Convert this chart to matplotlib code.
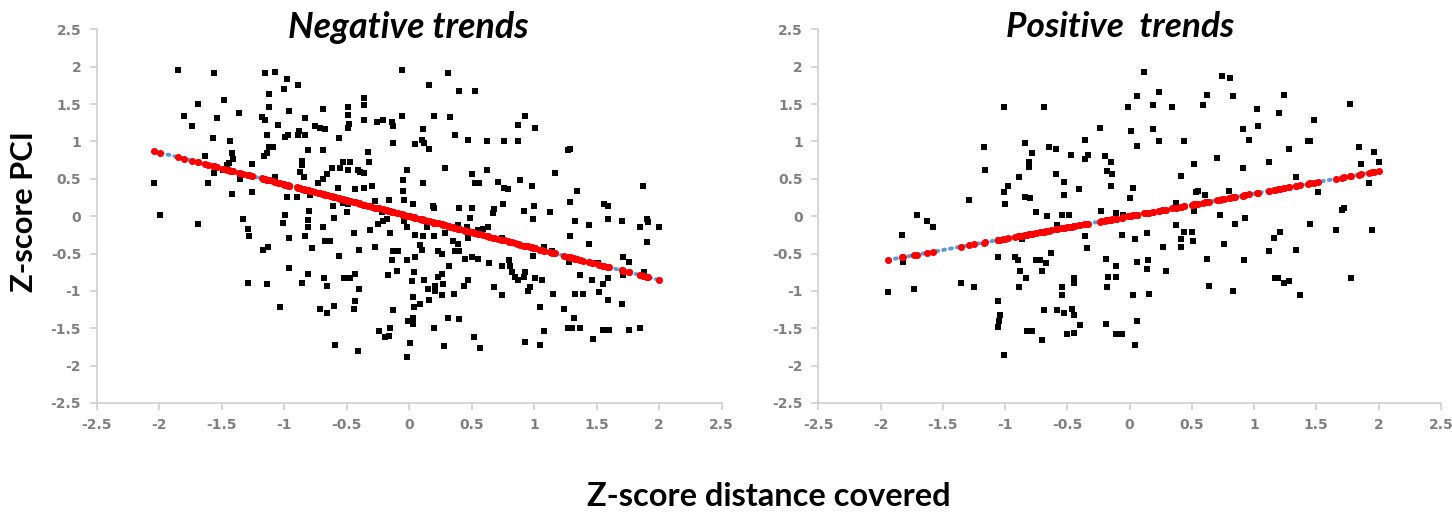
import numpy as np
import matplotlib
matplotlib.use("Agg")
import matplotlib.pyplot as plt

# Negative trends panel (z-score distance covered vs z-score PCI)
neg_pts = [
    (-1.85, 1.95), (-1.56, 1.91), (-1.15, 1.91), (-1.07, 1.93), (-0.98, 1.83), (-1.00, 1.70), (-0.89, 1.75),
    (-1.12, 1.63), (-1.48, 1.55), (-1.69, 1.50), (-1.12, 1.46), (-0.96, 1.41), (-0.69, 1.44), (-0.36, 1.58),
    (-0.36, 1.49), (-0.49, 1.46), (-0.49, 1.36), (-1.80, 1.34), (-1.54, 1.31), (-1.36, 1.38), (-1.18, 1.33),
    (-1.15, 1.29), (-1.05, 1.22), (-0.83, 1.31), (-1.74, 1.20), (-0.75, 1.20), (-0.71, 1.18), (-0.67, 1.16),
    (-0.48, 1.23), (-0.49, 1.18), (-0.36, 1.29), (-0.26, 1.26), (-0.21, 1.29), (-0.14, 1.26), (-0.13, 1.20),
    (-1.14, 1.08), (-0.99, 1.06), (-0.97, 1.08), (-0.89, 1.08), (-0.88, 1.14), (-0.83, 1.08), (-0.56, 1.05),
    (-1.57, 1.04), (-1.43, 1.00), (-0.13, 0.98), (-1.12, 0.93), (-1.09, 0.92), (-1.14, 0.84), (-1.16, 0.81),
    (-1.42, 0.84), (-1.41, 0.77), (-0.81, 0.88), (-0.69, 0.88), (-0.33, 0.86), (-1.63, 0.80), (-1.44, 0.71),
    (-1.46, 0.68), (-1.26, 0.70), (-0.86, 0.74), (-0.86, 0.68), (-0.87, 0.59), (-0.84, 0.52), (-0.53, 0.72),
    (-0.47, 0.72), (-0.55, 0.65), (-0.62, 0.64), (-0.49, 0.62), (-0.41, 0.62), (-0.36, 0.58), (-0.39, 0.59),
    (-0.32, 0.72), (-1.56, 0.58), (-1.49, 0.62), (-2.04, 0.44), (-1.61, 0.44), (-1.35, 0.50), (-1.07, 0.52),
    (-0.66, 0.56), (-0.69, 0.50), (-0.73, 0.44), (-1.42, 0.30), (-1.26, 0.32), (-0.98, 0.25), (-0.90, 0.25),
    (-0.79, 0.28), (-0.57, 0.38), (-0.43, 0.36), (-0.36, 0.38), (-0.30, 0.40), (-0.16, 0.21), (-0.27, 0.20),
    (-0.61, 0.13), (-0.49, 0.16), (-0.53, 0.18),
    (-0.06, 1.95), (0.31, 1.91), (0.16, 1.75), (0.40, 1.67), (0.53, 1.67), (-0.06, 1.34), (0.20, 1.34),
    (0.33, 1.33), (0.93, 1.34), (0.87, 1.22), (1.01, 1.18), (0.11, 1.16), (0.37, 1.08), (0.47, 1.02),
    (0.62, 1.00), (0.76, 1.00), (0.87, 1.00), (0.10, 1.02), (0.05, 0.96), (0.12, 0.98), (0.16, 0.90),
    (1.27, 0.88), (1.29, 0.90), (-0.02, 0.62), (0.29, 0.64), (0.50, 0.56), (0.62, 0.62), (1.17, 0.58),
    (-0.05, 0.48), (0.11, 0.44), (0.53, 0.44), (0.56, 0.44), (0.71, 0.46), (0.76, 0.37), (0.79, 0.36),
    (0.89, 0.48), (0.98, 0.41), (-0.05, 0.33), (1.34, 0.33), (1.87, 0.40), (-0.04, 0.21), (0.03, 0.16),
    (0.19, 0.13), (0.20, 0.11), (0.40, 0.11), (0.50, 0.11), (0.68, 0.09), (0.75, 0.16), (1.00, 0.13),
    (1.29, 0.19), (1.56, 0.16), (1.59, 0.13),
    (-1.99, 0.01), (-1.69, -0.11), (-1.33, -0.04), (-1.29, -0.17), (-1.28, -0.27), (-0.99, 0.01), (-1.01, -0.09),
    (-0.80, 0.07), (-0.81, -0.05), (-0.81, -0.15), (-0.83, -0.27), (-0.69, -0.15), (-0.60, -0.03), (-0.50, 0.05),
    (-0.96, -0.29), (-1.17, -0.45), (-1.13, -0.41), (-0.78, -0.43), (-0.67, -0.33), (-0.63, -0.33), (-0.56, -0.53),
    (-0.44, -0.23), (-0.40, -0.45), (-0.31, -0.19), (-0.25, -0.11), (-0.21, -0.07), (-0.18, -0.04), (-0.22, 0.05),
    (-0.15, -0.23), (-0.27, -0.41), (-0.13, -0.47), (-0.09, -0.47), (-0.14, -0.59), (-0.96, -0.69), (-0.81, -0.77),
    (-1.29, -0.89), (-1.14, -0.91), (-0.86, -0.89), (-0.68, -0.83), (-0.66, -0.94), (-0.52, -0.83), (-0.47, -0.83),
    (-0.43, -0.77), (-0.40, -0.97), (-0.17, -0.79), (-0.10, -0.73), (-1.03, -1.22), (-0.71, -1.24), (-0.66, -1.30),
    (-0.60, -1.20), (-0.43, -1.13), (-0.44, -1.24), (-0.13, -1.26), (-0.24, -1.54), (-0.15, -1.50), (-0.19, -1.62),
    (-0.16, -1.60), (-0.59, -1.72), (-0.41, -1.80),
    (-0.04, -0.07), (-0.02, -0.15), (0.05, -0.25), (0.11, -0.27), (0.20, -0.27), (0.14, -0.15), (0.29, -0.23),
    (0.35, -0.33), (0.39, -0.37), (0.37, -0.47), (0.40, -0.47), (0.09, -0.39), (0.10, -0.45), (0.05, -0.55),
    (-0.02, -0.59), (0.23, -0.47), (0.26, -0.51), (0.47, -0.29), (0.46, -0.15), (0.39, -0.12), (0.49, -0.03),
    (0.55, -0.19), (0.59, -0.17), (0.63, -0.15), (0.67, 0.04), (0.45, -0.57), (0.50, -0.55), (0.55, -0.57),
    (0.64, -0.63), (0.74, -0.67), (0.74, -0.29), (0.80, -0.59), (0.81, -0.67), (0.82, -0.75), (0.85, -0.81),
    (0.87, -0.86), (0.93, -0.75), (0.92, -0.81), (1.01, -0.83), (1.06, -0.86), (0.92, 0.07), (0.99, -0.04),
    (1.13, 0.05), (1.08, -0.41), (0.99, -0.53), (1.14, -0.47), (0.32, -0.67), (0.04, -0.75), (0.02, -0.87),
    (0.12, -0.86), (0.23, -0.81), (0.26, -0.77), (0.27, -0.91), (0.21, -0.94), (0.21, -1.00), (0.26, -1.06),
    (0.15, -0.97), (0.03, -1.08), (0.16, -1.12), (0.09, -1.18), (0.04, -1.22), (0.36, -1.04), (0.44, -0.94),
    (0.47, -0.86), (0.68, -0.95), (0.74, -1.06), (0.95, -1.00), (0.97, -0.95), (1.15, -1.04), (1.05, -1.22),
    (1.24, -1.24), (1.32, -1.36), (1.33, -1.04), (1.39, -1.04), (1.37, -0.79), (1.46, -0.86), (1.52, -1.02),
    (1.55, -0.91), (1.59, -0.83), (1.59, -1.12), (1.70, -1.18), (1.71, -0.79), (1.88, -0.75), (1.71, -0.55),
    (1.76, -0.61), (1.51, -0.63), (1.28, -0.61), (1.29, -0.27), (1.44, -0.37), (1.44, -0.12), (1.33, -0.07),
    (1.59, -0.04), (1.70, -0.07), (1.85, -0.15), (1.90, -0.04), (1.91, -0.08), (2.00, -0.15), (1.90, -0.35),
    (-0.01, -1.40), (0.03, -1.36), (0.03, -1.44), (0.20, -1.50), (0.31, -1.36), (0.40, -1.38), (0.01, -1.70),
    (-0.02, -1.88), (0.28, -1.74), (0.52, -1.62), (0.57, -1.76), (0.93, -1.68), (1.05, -1.72), (1.08, -1.54),
    (1.27, -1.50), (1.30, -1.50), (1.37, -1.50), (1.47, -1.64), (1.55, -1.52), (1.60, -1.52), (1.76, -1.52),
    (1.85, -1.50),
]

# Positive trends panel
pos_pts = [
    (-1.01, 1.46), (-0.69, 1.46), (-0.24, 1.18), (-0.36, 1.02), (-1.17, 0.92), (-0.84, 0.98), (-0.78, 0.84),
    (-0.65, 0.92), (-0.59, 0.90), (-0.47, 0.82), (-0.33, 0.82), (-0.36, 0.76), (-0.20, 0.80), (-0.15, 0.72),
    (-0.81, 0.72), (-0.81, 0.66), (-1.16, 0.62), (-0.59, 0.56), (-0.53, 0.46), (-0.18, 0.60), (-0.14, 0.56),
    (-0.89, 0.52), (-0.98, 0.41), (-1.01, 0.32), (-0.41, 0.36), (-0.15, 0.40), (-1.29, 0.21), (-1.00, 0.16),
    (-0.84, 0.25), (-0.80, 0.24), (-0.53, 0.28),
    (-1.71, 0.01), (-1.63, -0.07), (-1.58, -0.15), (-1.83, -0.25), (-0.75, 0.05), (-0.66, 0.00), (-0.54, 0.01),
    (-0.49, 0.01), (-0.23, 0.07), (-0.11, 0.04), (-0.58, -0.12), (-0.36, -0.27), (-0.34, -0.43), (-0.86, -0.31),
    (-0.63, -0.49), (-1.06, -0.55), (-0.92, -0.55), (-0.90, -0.59), (-0.75, -0.59), (-0.72, -0.59), (-0.67, -0.63),
    (-0.88, -0.73), (-0.70, -0.73), (-0.83, -0.83), (-0.19, -0.57), (-0.11, -0.67), (-0.17, -0.81), (-0.11, -0.81),
    (-0.18, -0.95), (-1.82, -0.61), (-1.94, -1.01), (-1.73, -0.98), (-1.35, -0.89), (-1.25, -0.95), (-0.89, -0.95),
    (-0.54, -0.95), (-0.54, -1.06), (-0.45, -0.83), (-0.45, -0.89), (-1.06, -1.13), (-1.04, -1.32), (-1.05, -1.40),
    (-1.06, -1.48), (-0.69, -1.26), (-0.58, -1.26), (-0.53, -1.30), (-0.46, -1.24), (-0.45, -1.32), (-0.40, -1.46),
    (-0.19, -1.44), (-0.82, -1.54), (-0.78, -1.54), (-0.70, -1.66), (-0.50, -1.58), (-0.45, -1.56), (-0.11, -1.58),
    (-1.01, -1.86),
    (0.12, 1.93), (0.74, 1.88), (0.81, 1.85), (0.06, 1.61), (0.24, 1.66), (-0.01, 1.46), (0.19, 1.49),
    (0.34, 1.46), (0.62, 1.62), (0.59, 1.49), (0.83, 1.61), (1.24, 1.62), (1.02, 1.44), (1.20, 1.38),
    (1.77, 1.50), (1.48, 1.28), (0.01, 1.14), (0.19, 1.16), (0.91, 1.16), (1.03, 1.20), (0.06, 0.94),
    (0.24, 1.00), (0.44, 1.00), (0.96, 1.02), (1.43, 1.00), (1.45, 1.00), (1.28, 0.90), (1.84, 0.92),
    (1.96, 0.86), (2.00, 0.72), (1.86, 0.70), (0.70, 0.78), (0.52, 0.70), (1.12, 0.72), (0.91, 0.64),
    (0.41, 0.54), (1.34, 0.52), (0.03, 0.37), (0.00, 0.24), (0.53, 0.32), (0.55, 0.33), (0.61, 0.28),
    (0.80, 0.33), (0.37, 0.17), (1.92, 0.44), (1.51, 0.32), (1.72, 0.11),
    (-0.05, 0.01), (0.00, 0.00), (0.26, 0.07), (0.52, 0.07), (0.73, 0.01), (0.93, -0.03), (0.85, -0.11),
    (0.37, -0.12), (0.44, -0.21), (0.50, -0.21), (0.41, -0.31), (0.51, -0.33), (0.41, -0.41), (0.27, -0.41),
    (0.14, -0.23), (0.04, -0.31), (-0.06, -0.25), (0.76, -0.37), (0.62, -0.57), (0.92, -0.59), (1.21, -0.21),
    (1.16, -0.29), (1.12, -0.47), (1.34, -0.45), (1.45, -0.11), (1.66, -0.19), (1.95, -0.19), (1.71, 0.08),
    (0.06, -0.61), (0.15, -0.59), (0.14, -0.71), (0.29, -0.73), (0.64, -0.94), (0.83, -1.00), (1.17, -0.83),
    (1.19, -0.83), (1.24, -0.90), (1.28, -0.87), (1.37, -1.06), (1.78, -0.83), (0.03, -1.06), (0.16, -1.04),
    (0.06, -1.40), (-0.06, -1.58), (0.04, -1.72),
]

# linear trendline (slope, intercept)
neg_fit = (-0.427, 0.0)
pos_fit = (0.302, 0.0)

titles = ["Negative trends", "Positive  trends"]
ticks = [-2.5, -2, -1.5, -1, -0.5, 0, 0.5, 1, 1.5, 2, 2.5]

W, H = 1452, 512
fig = plt.figure(figsize=(W / 100, H / 100), dpi=100)

tick_font = ["Liberation Sans Narrow", "DejaVu Sans"]
label_font = ["Lato", "DejaVu Sans"]
grey = "#808080"
axis_col = "#d0d0d0"

ax_left = fig.add_axes([96.5 / W, 1 - 403 / H, 625 / W, 373.7 / H])
ax_right = fig.add_axes([818.3 / W, 1 - 403 / H, 622.5 / W, 373.7 / H])

title_objs = []
for ax, pts, fit, title in zip([ax_left, ax_right], [neg_pts, pos_pts], [neg_fit, pos_fit], titles):
    x = np.array([p[0] for p in pts])
    y = np.array([p[1] for p in pts])
    ax.scatter(x, y, marker="s", s=16, color="black", linewidths=0, zorder=3)
    xl = np.array([x.min(), x.max()])
    ax.plot(xl, fit[0] * xl + fit[1], color="#5b9bd5", lw=2.8,
            linestyle=(0, (0.5, 1.3)), dash_capstyle="round", zorder=4)
    ax.scatter(x, fit[0] * x + fit[1], marker="o", s=26, color="red", linewidths=0, zorder=5)

    ax.set_xlim(-2.5, 2.5)
    ax.set_ylim(-2.5, 2.5)
    ax.set_xticks(ticks)
    ax.set_yticks(ticks)
    ax.set_xticklabels([f"{t:g}" for t in ticks], family=tick_font, fontweight="bold", fontsize=10, color=grey)
    ax.set_yticklabels([f"{t:g}" for t in ticks], family=tick_font, fontweight="bold", fontsize=10, color=grey)
    for s in ["top", "right"]:
        ax.spines[s].set_visible(False)
    for s in ["left", "bottom"]:
        ax.spines[s].set_color(axis_col)
        ax.spines[s].set_linewidth(1.2)
    ax.tick_params(direction="out", length=5, width=1.2, color=axis_col, pad=6)

# titles and axis labels, sized to the widths measured on the reference
t1 = fig.text(408 / W, 1 - 27 / H, titles[0], ha="center", va="center",
              family=label_font, fontweight="bold", style="italic", fontsize=20)
t2 = fig.text(1120 / W, 1 - 27 / H, titles[1], ha="center", va="center",
              family=label_font, fontweight="bold", style="italic", fontsize=20)
yl = fig.text(24 / W, 1 - 212 / H, "Z-score PCI", rotation=90, ha="center", va="center",
              family=label_font, fontweight="bold", fontsize=20)
xl = fig.text(769 / W, 1 - 497 / H, "Z-score distance covered", ha="center", va="center",
              family=label_font, fontweight="bold", fontsize=20)

fig.canvas.draw()
r = fig.canvas.get_renderer()
for txt, target, use_h in [(t1, 240, False), (t2, 228, False), (yl, 161, True), (xl, 364, False)]:
    bb = txt.get_window_extent(r)
    cur = bb.height if use_h else bb.width
    txt.set_fontsize(txt.get_fontsize() * target / cur)

fig.savefig("out.png", dpi=100)
